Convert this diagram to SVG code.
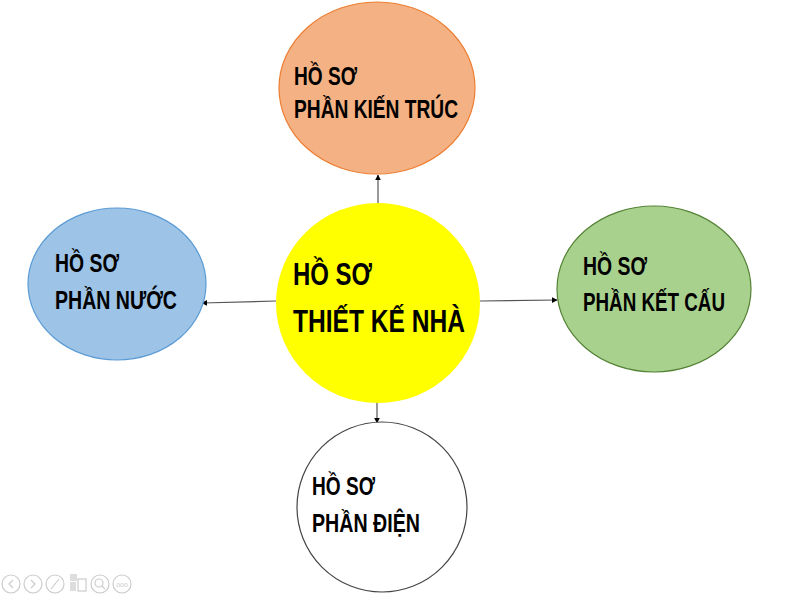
<svg xmlns="http://www.w3.org/2000/svg" width="800" height="600" viewBox="0 0 800 600">
<defs>
<style>
.t{font-family:"Liberation Sans","Noto Sans",sans-serif;font-weight:bold;font-size:26px;fill:#000}
.c{font-size:31px}
.e{stroke-width:1.2}
.cn{stroke:#555;stroke-width:1.2;fill:none;marker-end:url(#ah)}
.ic{fill:none;stroke:#ccc;stroke-width:1.2}
</style>
<marker id="ah" viewBox="0 0 10 10" refX="9" refY="5" markerWidth="6" markerHeight="6" orient="auto" markerUnits="userSpaceOnUse">
<path d="M0,0 L10,5 L0,10 z" fill="#000"/>
</marker>
</defs>
<rect width="800" height="600" fill="#fff"/>
<g id="connectors">
<line class="cn" x1="378" y1="203" x2="378" y2="175"/>
<line class="cn" x1="276" y1="301" x2="202" y2="303"/>
<line class="cn" x1="480" y1="301" x2="557" y2="300"/>
<line class="cn" x1="377" y1="401" x2="377" y2="423"/>
</g>
<g id="kien-truc">
<ellipse class="e" cx="377" cy="88" rx="98" ry="86" fill="#F4B183" stroke="#ED7D31"/>
<text class="t" x="294" y="85" textLength="63" lengthAdjust="spacingAndGlyphs">HỒ SƠ</text>
<text class="t" x="294" y="118" textLength="164" lengthAdjust="spacingAndGlyphs">PHẦN KIẾN TRÚC</text>
</g>
<g id="thiet-ke">
<ellipse cx="378" cy="303" rx="102" ry="100" fill="#FFFF00"/>
<text class="t c" x="293" y="285" textLength="79" lengthAdjust="spacingAndGlyphs">HỒ SƠ</text>
<text class="t c" x="293" y="332" textLength="172" lengthAdjust="spacingAndGlyphs">THIẾT KẾ NHÀ</text>
</g>
<g id="nuoc">
<ellipse class="e" cx="117" cy="284" rx="89" ry="76" fill="#9DC3E6" stroke="#5B9BD5"/>
<text class="t" x="55" y="272" textLength="64" lengthAdjust="spacingAndGlyphs">HỒ SƠ</text>
<text class="t" x="55" y="309" textLength="122" lengthAdjust="spacingAndGlyphs">PHẦN NƯỚC</text>
</g>
<g id="ket-cau">
<ellipse class="e" cx="654" cy="289" rx="97" ry="83" fill="#A9D18E" stroke="#548235"/>
<text class="t" x="583" y="275" textLength="64" lengthAdjust="spacingAndGlyphs">HỒ SƠ</text>
<text class="t" x="583" y="311" textLength="142" lengthAdjust="spacingAndGlyphs">PHẦN KẾT CẤU</text>
</g>
<g id="dien">
<ellipse class="e" cx="382" cy="507" rx="85" ry="85" fill="#fff" stroke="#444"/>
<text class="t" x="312" y="495" textLength="63" lengthAdjust="spacingAndGlyphs">HỒ SƠ</text>
<text class="t" x="312" y="532" textLength="108" lengthAdjust="spacingAndGlyphs">PHẦN ĐIỆN</text>
</g>
<g id="toolbar">
<circle class="ic" cx="11" cy="584" r="9"/>
<path class="ic" d="M13,580 L9,584 L13,588"/>
<circle class="ic" cx="33" cy="584" r="9"/>
<path class="ic" d="M31,580 L35,584 L31,588"/>
<circle class="ic" cx="55" cy="584" r="9"/>
<path class="ic" d="M51,589 L59,579"/>
<rect x="70" y="574" width="7" height="7" fill="#ddd"/>
<rect x="70" y="582" width="6" height="9" fill="#ddd"/>
<rect x="78" y="579" width="8" height="12" class="ic"/>
<circle class="ic" cx="100" cy="584" r="9"/>
<circle class="ic" cx="99" cy="583" r="4"/>
<path class="ic" d="M102,586 L105,589"/>
<circle class="ic" cx="122" cy="584" r="9"/>
<text x="122" y="587" font-family="Liberation Sans,sans-serif" font-size="7" fill="#ccc" text-anchor="middle">ooo</text>
</g>
</svg>
